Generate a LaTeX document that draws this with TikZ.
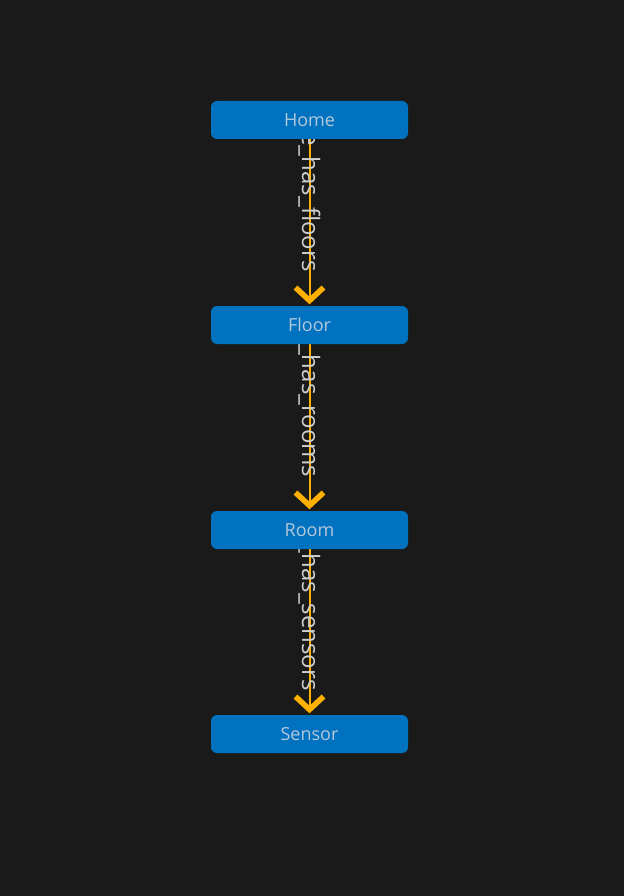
\documentclass[tikz,border=0pt]{standalone}
\usepackage{fontspec}
\setmainfont{Open Sans}
\usetikzlibrary{arrows.meta}
\pgfdeclarelayer{background}
\pgfsetlayers{background,main}
\definecolor{bgcol}{HTML}{1A1A1A}
\definecolor{nodeblue}{HTML}{0172BF}
\definecolor{nodetext}{HTML}{B4C8DC}
\definecolor{edgeorange}{HTML}{FFB000}
\definecolor{labelgray}{HTML}{CFCFCF}
\tikzset{
  entity/.style={rectangle, rounded corners=6pt, fill=nodeblue, minimum width=197pt,
    minimum height=38pt, inner sep=0pt, text=nodetext, font=\fontsize{18}{20}\selectfont},
  relation/.style={draw=edgeorange, line width=2pt, shorten >=1.5pt,
    -{Straight Barb[length=13pt,width=28pt,line width=5.5pt]}},
  elabel/.style={rotate=-90, anchor=east, inner sep=0pt, text=labelgray,
    font=\fontsize{24}{26}\selectfont}
}
\begin{document}
\begin{tikzpicture}[x=1pt,y=-1pt]
\useasboundingbox (0,0) rectangle (624,896);
\node[entity] (home) at (309.5,120) {Home};
\node[entity] (floor) at (309.5,325) {Floor};
\node[entity] (room) at (309.5,530) {Room};
\node[entity] (sensor) at (309.5,734) {Sensor};
\begin{pgfonlayer}{background}
\fill[bgcol] (0,0) rectangle (624,896);
\begin{scope}
\clip (home.south west) rectangle (floor.north east);
\draw[relation] (home) -- (floor) node[elabel, pos=0.80] {home\_has\_floors};
\end{scope}
\begin{scope}
\clip (floor.south west) rectangle (room.north east);
\draw[relation] (floor) -- (room) node[elabel, pos=0.805] {floor\_has\_rooms};
\end{scope}
\begin{scope}
\clip (room.south west) rectangle (sensor.north east);
\draw[relation] (room) -- (sensor) node[elabel, pos=0.86] {room\_has\_sensors};
\end{scope}
\end{pgfonlayer}
\end{tikzpicture}
\end{document}
